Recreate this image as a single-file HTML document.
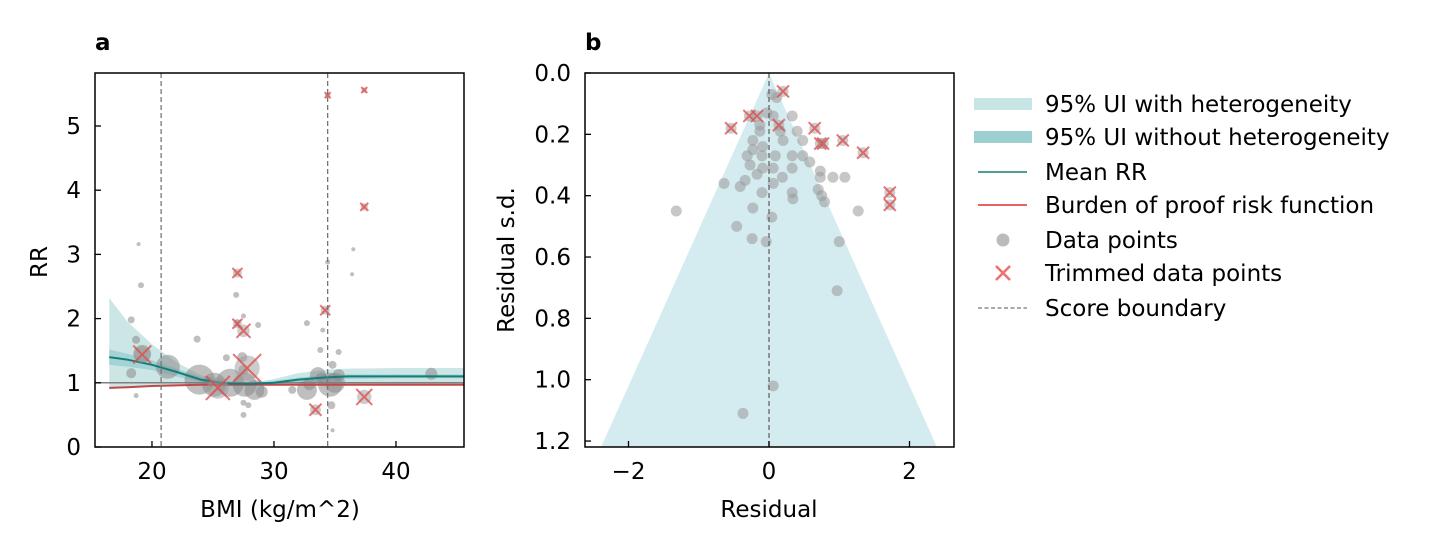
<!DOCTYPE html>
<html><head><meta charset="utf-8"><style>
body{margin:0;background:#fff;}
svg{display:block;font-family:"DejaVu Sans","Liberation Sans",sans-serif;}
</style></head><body>
<svg id="s" width="1432" height="550"></svg>
<script>
// ---- Panel a data ----
const aGrayBmi=[18.9,19.1,18.3,18.7,19.2,18.3,21.3,18.7,23.7,23.9,25.1,26.4,27.6,28.4,26.1,27.0,26.9,27.5,28.7,27.5,27.4,27.5,27.5,27.9,29.0,31.5,32.7,33.9,34.8,35.3,33.8,32.7,34.0,34.4,35.0,34.6,33.6,36.5,36.4,34.8,34.7,42.9,35.3,32.9];
const aGrayRR=[3.16,2.52,1.98,1.67,1.45,1.15,1.25,0.8,1.68,1.05,0.97,1.0,0.97,0.89,1.39,1.95,2.37,2.04,1.9,1.2,1.4,0.69,0.5,0.65,0.86,0.89,0.89,1.07,1.28,1.48,1.51,1.93,1.82,2.88,1.0,0.97,1.12,3.08,2.69,0.26,0.65,1.14,1.12,0.98];
const aGraySize=[2,3,3.5,4,9,5,12,2.5,3.5,15,12,14,12,10,3.5,2.5,3,2.5,3,5,5,3,3,3,6,4,10,6,4,3,3,3,2.5,2.5,10,12,8,2,2,2,4,6,6,6];
const aTrimBmi=[19.2,27.0,27.0,27.5,25.4,27.8,33.4,34.2,34.4,37.4,37.4,37.4];
const aTrimRR=[1.44,2.71,1.92,1.81,0.92,1.23,0.58,2.13,5.48,5.56,3.74,0.78];
const aTrimSize=[9,5,5,7,12,14,6,5,3,3,4,8];
const curveBmi=[16.5,18,20,22,24,26,28,30,32,34,36,40,45.6];
const meanRR=[1.4,1.36,1.28,1.17,1.05,0.99,0.98,1.0,1.05,1.08,1.1,1.1,1.1];
const bopRR=[0.92,0.93,0.95,0.96,0.97,0.97,0.97,0.97,0.97,0.97,0.97,0.97,0.97];
const hetUpper=[2.32,1.95,1.6,1.32,1.12,1.03,1.0,1.06,1.15,1.2,1.22,1.23,1.23];
const hetLower=[0.9,0.92,0.95,0.97,0.98,0.98,0.97,0.96,0.97,0.98,0.98,0.98,0.98];
const noHetUpper=[1.52,1.45,1.35,1.22,1.09,1.02,0.99,1.03,1.08,1.12,1.13,1.13,1.13];
const noHetLower=[1.28,1.25,1.2,1.1,1.01,0.97,0.96,0.97,1.01,1.04,1.06,1.07,1.07];
const aXTicks=[20,30,40];
const aYTicks=[0,1,2,3,4,5];
const boundaries=[20.75,34.4];
// ---- Panel b data ----
const bGrayRes=[0.04,0.11,-0.03,0.06,-0.13,-0.13,0.16,0.33,0.40,0.2,0.48,-0.23,-0.23,-0.09,-0.31,-0.1,0.09,0.33,0.48,-0.27,-0.09,0.06,0.33,0.58,0.73,0.73,0.91,1.08,-0.17,0.19,0.06,-0.34,-0.41,-0.64,0.33,0.34,0.70,0.75,0.79,-0.1,-0.23,0.04,-1.32,1.27,-0.46,-0.24,-0.04,1.0,0.97,0.06,-0.37];
const bGraySd=[0.07,0.08,0.13,0.14,0.17,0.19,0.19,0.14,0.19,0.22,0.22,0.22,0.25,0.24,0.27,0.27,0.27,0.27,0.27,0.3,0.31,0.31,0.31,0.29,0.32,0.34,0.34,0.34,0.33,0.34,0.36,0.35,0.37,0.36,0.39,0.41,0.38,0.40,0.42,0.39,0.44,0.47,0.45,0.45,0.50,0.54,0.55,0.55,0.71,1.02,1.11];
const bTrimRes=[0.2,-0.54,-0.28,-0.17,0.14,0.65,0.73,0.77,1.05,1.34,1.72,1.72];
const bTrimSd=[0.06,0.18,0.14,0.14,0.17,0.18,0.23,0.23,0.22,0.26,0.39,0.43];
const bXTicks=[-2,0,2];
const bYTicks=[0.0,0.2,0.4,0.6,0.8,1.0,1.2];
const funnelZ=1.96;

const NS="http://www.w3.org/2000/svg";
const svg=document.getElementById('s');
const FS=23;
function mk(tag,attrs,parent){const e=document.createElementNS(NS,tag);for(const k in attrs)e.setAttribute(k,attrs[k]);(parent||svg).appendChild(e);return e;}
function txt(x,y,s,attrs){const e=mk('text',Object.assign({x:x,y:y,'font-size':FS,fill:'#000'},attrs||{}));e.textContent=s;return e;}

const ax=v=>95+(v-15.33)*12.2;
const ay=v=>447-v*64.2;
const bx=v=>769+v*70.25;
const by=v=>73+v*306.7;

// ---- panel a ----
const gA=mk('g',{});


function bandPath(xs,up,lo,fx,fy){let d='';for(let i=0;i<xs.length;i++)d+=(i?'L':'M')+fx(xs[i])+','+fy(up[i]);for(let i=xs.length-1;i>=0;i--)d+='L'+fx(xs[i])+','+fy(lo[i]);return d+'Z';}
function linePath(xs,ys,fx,fy){let d='';for(let i=0;i<xs.length;i++)d+=(i?'L':'M')+fx(xs[i])+','+fy(ys[i]);return d;}
let e;
e=mk('path',{d:bandPath(curveBmi,hetUpper,hetLower,ax,ay),fill:'#bfe0e0',opacity:0.8},gA);


e=mk('path',{d:bandPath(curveBmi,noHetUpper,noHetLower,ax,ay),fill:'#93caca',opacity:0.7},gA);


aGrayBmi.forEach((b,i)=>{const c=mk('circle',{cx:ax(b),cy:ay(aGrayRR[i]),r:aGraySize[i],fill:'#8a8a8a',opacity:0.55},gA);

});
e=mk('line',{x1:95,x2:464,y1:ay(1),y2:ay(1),stroke:'#808080','stroke-width':1.5},gA);


e=mk('path',{d:linePath(curveBmi,bopRR,ax,ay),fill:'none',stroke:'#c04848','stroke-width':2},gA);


e=mk('path',{d:linePath(curveBmi,meanRR,ax,ay),fill:'none',stroke:'#137d7d','stroke-width':2},gA);


aTrimBmi.forEach((b,i)=>{const x=ax(b),y=ay(aTrimRR[i]),s=aTrimSize[i];
const c=mk('circle',{cx:x,cy:y,r:s*0.9,fill:'#999',opacity:0.5},gA);


const p=mk('path',{d:`M${x-s},${y-s}L${x+s},${y+s}M${x-s},${y+s}L${x+s},${y-s}`,stroke:'#e04848','stroke-width':2,opacity:0.75},gA);

});
boundaries.forEach(b=>{const l=mk('line',{x1:ax(b),x2:ax(b),y1:73,y2:447,stroke:'#777','stroke-width':1.3,'stroke-dasharray':'5,3'},gA);

});
e=mk('rect',{x:95,y:73,width:369,height:374,fill:'none',stroke:'#000','stroke-width':1.5},gA);


aXTicks.forEach(t=>{mk('line',{x1:ax(t),x2:ax(t),y1:447,y2:441,stroke:'#000','stroke-width':1.3},gA);
const l=txt(ax(t),479,String(t),{'text-anchor':'middle'});

});
aYTicks.forEach(t=>{mk('line',{x1:95,x2:101,y1:ay(t),y2:ay(t),stroke:'#000','stroke-width':1.3},gA);
const l=txt(81,ay(t)+8,String(t),{'text-anchor':'end'});

});
e=txt(280,517,'BMI (kg/m^2)',{'text-anchor':'middle'});


e=txt(47,262,'RR',{'text-anchor':'middle',transform:'rotate(-90 47 262)'});


e=txt(95,50,'a',{'font-size':23,'font-weight':'bold'});



// ---- panel b ----
const gB=mk('g',{});


const sdMax=1.22;
e=mk('path',{d:`M${bx(0)},${by(0)}L${bx(funnelZ*sdMax)},${by(sdMax)}L${bx(-funnelZ*sdMax)},${by(sdMax)}Z`,fill:'#d4ecf0'},gB);


bGrayRes.forEach((r,i)=>{const c=mk('circle',{cx:bx(r),cy:by(bGraySd[i]),r:5.5,fill:'#999',opacity:0.55},gB);

});
bTrimRes.forEach((r,i)=>{const x=bx(r),y=by(bTrimSd[i]),s=6;
const c=mk('circle',{cx:x,cy:y,r:5.5,fill:'#999',opacity:0.5},gB);


const p=mk('path',{d:`M${x-s},${y-s}L${x+s},${y+s}M${x-s},${y+s}L${x+s},${y-s}`,stroke:'#e04848','stroke-width':2,opacity:0.75},gB);

});
e=mk('line',{x1:bx(0),x2:bx(0),y1:73,y2:447,stroke:'#666','stroke-width':1.3,'stroke-dasharray':'5,3'},gB);


e=mk('rect',{x:585,y:73,width:369,height:374,fill:'none',stroke:'#000','stroke-width':1.5},gB);


bXTicks.forEach(t=>{mk('line',{x1:bx(t),x2:bx(t),y1:447,y2:441,stroke:'#000','stroke-width':1.3},gB);
const l=txt(bx(t),479,t<0?'\u2212'+Math.abs(t):String(t),{'text-anchor':'middle'});

});
bYTicks.forEach(t=>{mk('line',{x1:585,x2:591,y1:by(t),y2:by(t),stroke:'#000','stroke-width':1.3},gB);
const l=txt(571,by(t)+8,t.toFixed(1),{'text-anchor':'end'});

});
e=txt(769,517,'Residual',{'text-anchor':'middle'});


e=txt(514,260,'Residual s.d.',{'text-anchor':'middle',transform:'rotate(-90 514 260)'});


e=txt(585,50,'b',{'font-size':23,'font-weight':'bold'});



// ---- legend ----
const gL=mk('g',{});


const legY=[104,137,172,205,240,273,308];
const legLabels=['95% UI with heterogeneity','95% UI without heterogeneity','Mean RR','Burden of proof risk function','Data points','Trimmed data points','Score boundary'];
legLabels.forEach((lab,i)=>{const y=legY[i];
if(i===0)mk('rect',{x:974,y:y-6,width:58,height:12,fill:'#c8e5e5'},gL);
if(i===1)mk('rect',{x:974,y:y-6,width:58,height:12,fill:'#9ccfcf'},gL);
if(i===2)mk('line',{x1:978,x2:1027,y1:y,y2:y,stroke:'#137d7d','stroke-width':1.5},gL);
if(i===3)mk('line',{x1:978,x2:1027,y1:y,y2:y,stroke:'#e03030','stroke-width':1.5},gL);
if(i===4)mk('circle',{cx:1003,cy:y,r:6.5,fill:'#bbb'},gL);
if(i===5)mk('path',{d:`M996,${y-7}L1010,${y+7}M996,${y+7}L1010,${y-7}`,stroke:'#f07070','stroke-width':2.6},gL);
if(i===6)mk('line',{x1:978,x2:1027,y1:y,y2:y,stroke:'#777','stroke-width':1.3,'stroke-dasharray':'4,2.5'},gL);
const t=txt(1045,y+8,lab);

});
</script>
</body></html>
